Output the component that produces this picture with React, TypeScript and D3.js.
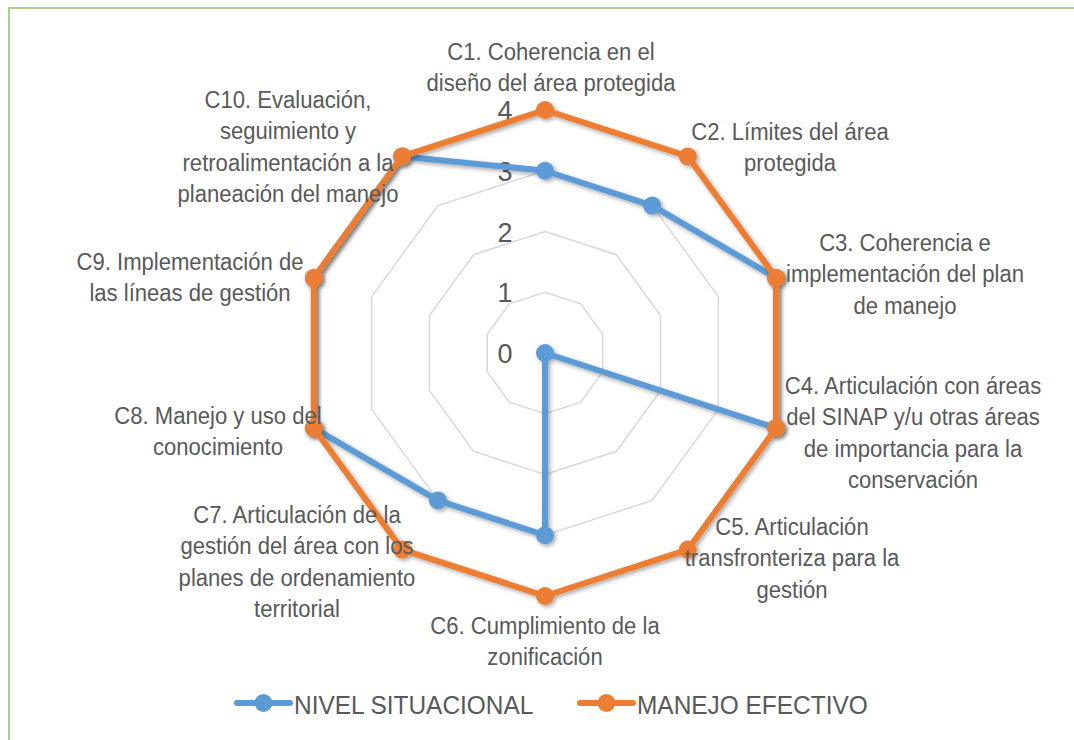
import React from 'react';
import * as d3 from 'd3';

const categories = [
  ['C1. Coherencia en el', 'diseño del área protegida'],
  ['C2. Límites del área', 'protegida'],
  ['C3. Coherencia e', 'implementación del plan', 'de manejo'],
  ['C4. Articulación con áreas', 'del SINAP y/u otras áreas', 'de importancia para la', 'conservación'],
  ['C5. Articulación', 'transfronteriza para la', 'gestión'],
  ['C6. Cumplimiento de la', 'zonificación'],
  ['C7. Articulación de la', 'gestión del área con los', 'planes de ordenamiento', 'territorial'],
  ['C8. Manejo y uso del', 'conocimiento'],
  ['C9. Implementación de', 'las líneas de gestión'],
  ['C10. Evaluación,', 'seguimiento y', 'retroalimentación a la', 'planeación del manejo'],
];
const nivelSituacional = [3, 3, 4, 4, 0, 3, 3, 4, 4, 4];
const manejoEfectivo = [4, 4, 4, 4, 4, 4, 4, 4, 4, 4];
const ticks = [0, 1, 2, 3, 4];

// label anchor (center x, first baseline) per category
const labelPos = [
  [551, 60], [790, 140], [905, 251], [913, 394], [792, 535],
  [545, 634], [297, 523], [218, 424], [190, 270], [288, 108],
];

const width = 1074;
const height = 740;
const cx = 545;
const cy = 353;
const font = "'Liberation Sans', Arial, sans-serif";
const textColor = '#595959';

const App = () => {
  const r = d3.scaleLinear().domain([0, 4]).range([0, 243]);
  const angle = d3
    .scaleLinear()
    .domain([0, categories.length])
    .range([0, 2 * Math.PI]);

  const radial = d3
    .lineRadial<number>()
    .angle((d, i) => angle(i))
    .radius((d) => r(d))
    .curve(d3.curveLinearClosed);

  const pt = (v: number, i: number) => [
    Math.sin(angle(i)) * r(v),
    -Math.cos(angle(i)) * r(v),
  ];

  const series = [
    { name: 'NIVEL SITUACIONAL', values: nivelSituacional, color: '#5b9bd5' },
    { name: 'MANEJO EFECTIVO', values: manejoEfectivo, color: '#ed7d31' },
  ];

  const legendX = [237, 580];

  return (
    <svg
      width={width}
      height={height}
      style={{ position: 'absolute', left: 0, top: 0, background: '#fff' }}
    >
      <defs>
        <filter id="shadow" x="-10%" y="-10%" width="130%" height="130%">
          <feDropShadow dx="2" dy="2" stdDeviation="2" floodColor="#000" floodOpacity="0.35" />
        </filter>
      </defs>
      <rect x={9} y={8} width={1200} height={1000} fill="none" stroke="#a9d18e" strokeWidth={2} />

      <g transform={`translate(${cx},${cy})`}>
        {ticks.slice(1).map((t) => (
          <path
            key={t}
            d={radial(categories.map(() => t)) || ''}
            fill="none"
            stroke="#d9d9d9"
            strokeWidth={1.5}
          />
        ))}
        {ticks.map((t) => (
          <text
            key={t}
            x={-40}
            y={-r(t) + 10}
            textAnchor="middle"
            fontFamily={font}
            fontSize={27}
            fill={textColor}
          >
            {t}
          </text>
        ))}
        {series.map((s) => (
          <g key={s.name} filter="url(#shadow)">
            <path
              d={radial(s.values) || ''}
              fill="none"
              stroke={s.color}
              strokeWidth={6}
              strokeLinejoin="round"
            />
            {s.values.map((v, i) => {
              const [x, y] = pt(v, i);
              return <circle key={i} cx={x} cy={y} r={9} fill={s.color} />;
            })}
          </g>
        ))}
      </g>

      {categories.map((lines, i) => (
        <text
          key={i}
          transform={`translate(${labelPos[i][0]},${labelPos[i][1]}) scale(0.96,1)`}
          textAnchor="middle"
          fontFamily={font}
          fontSize={23}
          fill={textColor}
        >
          {lines.map((l, j) => (
            <tspan key={j} x={0} y={j * 31.3}>
              {l}
            </tspan>
          ))}
        </text>
      ))}

      {series.map((s, i) => (
        <g key={s.name} transform={`translate(${legendX[i]},703)`}>
          <line x1={0} x2={53} y1={0} y2={0} stroke={s.color} strokeWidth={6} strokeLinecap="round" />
          <circle cx={26.5} cy={0} r={9} fill={s.color} />
          <text
            transform="translate(57,11) scale(0.94,1)"
            fontFamily={font}
            fontSize={26}
            fill={textColor}
          >
            {s.name}
          </text>
        </g>
      ))}
    </svg>
  );
};

export default App;
